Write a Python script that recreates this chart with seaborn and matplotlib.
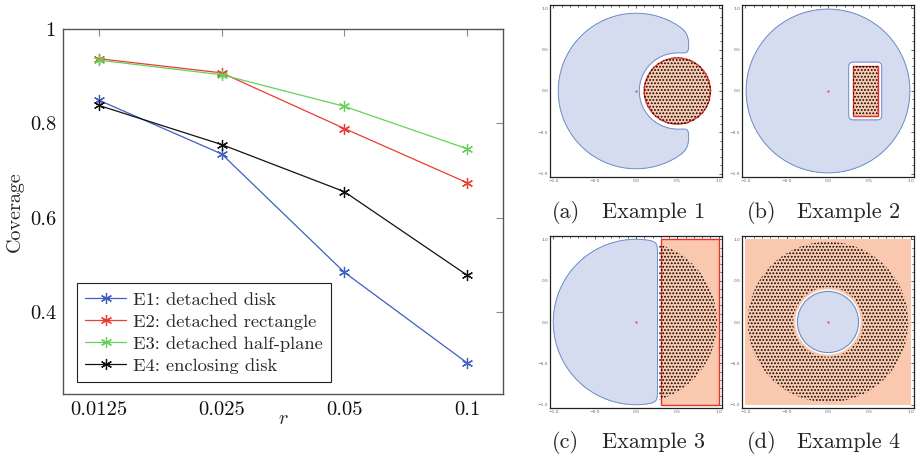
import numpy as np
import pandas as pd
import matplotlib.pyplot as plt
import matplotlib.patches as mpatches
from matplotlib.path import Path
from matplotlib.ticker import FixedLocator, NullLocator, MultipleLocator
import seaborn as sns

# ===== DATA =====
radii = [0.0125, 0.025, 0.05, 0.1]
radius_labels = ['0.0125', '0.025', '0.05', '0.1']
cov_e1 = [0.849, 0.735, 0.484, 0.292]
cov_e2 = [0.937, 0.907, 0.789, 0.674]
cov_e3 = [0.934, 0.903, 0.836, 0.746]
cov_e4 = [0.838, 0.755, 0.655, 0.478]
series_names = ['E1: detached disk', 'E2: detached rectangle',
                'E3: detached half-plane', 'E4: enclosing disk']
y_ticks = [0.4, 0.6, 0.8, 1.0]
y_tick_labels = ['0.4', '0.6', '0.8', '1']

# ===== EXAMPLE GEOMETRY (small panels, data units) =====
ex1_outer_r = 0.94
ex1_target_c = [0.5, 0.0]
ex1_target_r = 0.4
ex1_cut_r = 0.46
ex1_cut_x = 0.64

ex2_outer_r = 0.99
ex2_rect = [0.3, 0.6, -0.3, 0.3]      # x0, x1, y0, y1
ex2_gap = 0.05

ex3_outer_r = 1.0
ex3_cut_x = 0.26
ex3_rect = [0.3, 1.0, -1.0, 1.0]
ex3_dots_x = 0.28
ex3_dots_r = 0.98

ex4_box = [-1.0, 1.0, -1.0, 1.0]
ex4_inner_r = 0.37
ex4_dots_r = [0.42, 0.97]

pole = [0.0, 0.0]
panel_ticks = [-1.0, -0.5, 0.0, 0.5, 1.0]
panel_tick_labels = ['\u22121.0', '\u22120.5', '0.0', '0.5', '1.0']
caption_tags = ['(a)', '(b)', '(c)', '(d)']
caption_texts = ['Example 1', 'Example 2', 'Example 3', 'Example 4']

# ===== COLORS =====
series_colors = ['#3f5fc0', '#ee3b30', '#66d15a', '#111111']
blue_fill, blue_edge = '#d5dcf0', '#6f8fc8'
peach, red_edge = '#f9c8ae', '#e63228'

# ===== STYLE =====
sns.set_style('white')
plt.rcParams['font.family'] = ['cmr10', 'DejaVu Serif']
plt.rcParams['mathtext.fontset'] = 'cm'
plt.rcParams['axes.formatter.use_mathtext'] = True
plt.rcParams['hatch.linewidth'] = 0.22
plt.rcParams['hatch.color'] = 'black'

W, H = 921, 463
fig = plt.figure(figsize=(W / 100, H / 100), dpi=100)


def px_axes(x0, y0, w, h):
    return fig.add_axes([x0 / W, 1 - (y0 + h) / H, w / W, h / H])


# ===== LEFT CHART =====
ax = px_axes(63, 29, 440, 365)
all_cov = [cov_e1, cov_e2, cov_e3, cov_e4]
df = pd.DataFrame({
    'r': radii * 4,
    'coverage': sum(all_cov, []),
    'series': np.repeat(series_names, len(radii)),
})
for name, col in zip(series_names, series_colors):
    sub = df[df['series'] == name]
    sns.lineplot(data=sub, x='r', y='coverage', ax=ax, color=col, lw=0.9,
                 marker=(6, 2, 0), markersize=8, markeredgewidth=0.9,
                 markeredgecolor=col, label=name)

ax.set_xscale('log', base=2)
pad = 2 ** (36 / 123)
ax.set_xlim(radii[0] / pad, radii[-1] * pad)
ax.set_ylim(0.226, 1.0)
ax.xaxis.set_major_locator(FixedLocator(radii))
ax.xaxis.set_minor_locator(NullLocator())
ax.set_xticklabels(radius_labels)
ax.set_yticks(y_ticks)
ax.set_yticklabels(y_tick_labels)
ax.tick_params(direction='in', length=5, width=0.8, color='#8a8a8a',
               top=True, right=True, labelsize=14.8, pad=5, labelcolor='#111')
ax.set_xlabel('$r$', fontsize=14.5, labelpad=-6)
ax.set_ylabel('Coverage', fontsize=14.5, labelpad=4)
for sp in ax.spines.values():
    sp.set_color('#555555')
    sp.set_linewidth(1.0)
ax.legend(loc='lower left', bbox_to_anchor=(0.032, 0.033), fontsize=13.3,
          frameon=True, fancybox=False, framealpha=1, edgecolor='#222',
          handlelength=2.2, borderpad=0.45, labelspacing=0.33,
          handletextpad=0.4, borderaxespad=0).get_frame().set_linewidth(0.8)


# ===== SMALL PANELS =====
grid = np.linspace(-1.05, 1.05, 700)
X, Y = np.meshgrid(grid, grid)
R = np.hypot(X, Y)


def smin(a, b, k=0.03):
    m = np.minimum(a, b)
    return m - k * np.log(np.exp(-(a - m) / k) + np.exp(-(b - m) / k))


def style_panel(a):
    a.set_xlim(-1.04, 1.04)
    a.set_ylim(-1.04, 1.04)
    a.set_aspect('equal')
    a.set_xticks(panel_ticks)
    a.set_yticks(panel_ticks)
    a.set_xticklabels(panel_tick_labels, family='DejaVu Sans')
    a.set_yticklabels(panel_tick_labels, family='DejaVu Sans')
    a.xaxis.set_minor_locator(MultipleLocator(0.1))
    a.yaxis.set_minor_locator(MultipleLocator(0.1))
    a.tick_params(which='both', direction='in', top=True, right=True,
                  width=0.5, color='#222', labelsize=3.2, pad=1.2,
                  labelcolor='#666')
    a.tick_params(which='major', length=2.5)
    a.tick_params(which='minor', length=1.3)
    for sp in a.spines.values():
        sp.set_color('#222')
        sp.set_linewidth(0.9)


def blue_region(a, F):
    a.contourf(X, Y, F, levels=[0, 100], colors=[blue_fill], zorder=2)
    a.contour(X, Y, F, levels=[0], colors=[blue_edge], linewidths=0.7, zorder=3)


def dots(a, path):
    a.add_patch(mpatches.PathPatch(path, facecolor='none', edgecolor='black',
                                   lw=0, hatch='ooooo', zorder=4))


def arc(r, t0, t1, n=200):
    t = np.linspace(t0, t1, n)
    return np.column_stack([r * np.cos(t), r * np.sin(t)])


def pole_mark(a):
    a.plot(pole[0], pole[1], marker='s', ms=1.4, color='#e64a40',
           mew=0, zorder=6)


# --- Example 1: detached disk
a1 = px_axes(550, 5, 172, 172)
F1 = smin(smin(ex1_outer_r - R,
               np.hypot(X - ex1_target_c[0], Y - ex1_target_c[1]) - ex1_cut_r),
          ex1_cut_x - X, k=0.035)
blue_region(a1, F1)
a1.add_patch(mpatches.Circle(ex1_target_c, ex1_target_r, facecolor=peach,
                             edgecolor=red_edge, lw=1.0, zorder=3))
dots(a1, Path.circle(ex1_target_c, ex1_target_r + 0.01))
pole_mark(a1)
style_panel(a1)

# --- Example 2: detached rectangle
a2 = px_axes(742, 5, 172, 172)
x0, x1, y0, y1 = ex2_rect
dx = np.maximum(np.maximum(x0 - X, X - x1), 0)
dy = np.maximum(np.maximum(y0 - Y, Y - y1), 0)
F2 = np.minimum(ex2_outer_r - R, np.hypot(dx, dy) - ex2_gap)
blue_region(a2, F2)
rect2 = mpatches.Rectangle((x0, y0), x1 - x0, y1 - y0)
a2.add_patch(mpatches.Rectangle((x0, y0), x1 - x0, y1 - y0, facecolor=peach,
                                edgecolor=red_edge, lw=1.0, zorder=3))
dots(a2, rect2.get_path().transformed(rect2.get_patch_transform()))
pole_mark(a2)
style_panel(a2)

# --- Example 3: detached half-plane
a3 = px_axes(550, 236, 172, 172)
F3 = smin(ex3_outer_r - R, ex3_cut_x - X, k=0.03)
blue_region(a3, F3)
rx0, rx1, ry0, ry1 = ex3_rect
a3.add_patch(mpatches.Rectangle((rx0, ry0), rx1 - rx0, ry1 - ry0, facecolor=peach,
                                edgecolor=red_edge, lw=1.0, zorder=3))
t = np.arccos(ex3_dots_x / ex3_dots_r)
verts = arc(ex3_dots_r, -t, t)
dots(a3, Path(np.vstack([verts, verts[:1]]), closed=True))
pole_mark(a3)
style_panel(a3)

# --- Example 4: enclosing disk
a4 = px_axes(742, 236, 172, 172)
bx0, bx1, by0, by1 = ex4_box
a4.add_patch(mpatches.Rectangle((bx0, by0), bx1 - bx0, by1 - by0, facecolor=peach,
                                lw=0, zorder=1))
outer = arc(ex4_dots_r[1], 0, 2 * np.pi)
inner = arc(ex4_dots_r[0], 2 * np.pi, 0)
ring = Path.make_compound_path(Path(outer, closed=True), Path(inner, closed=True))
dots(a4, ring)
a4.add_patch(mpatches.Circle((0, 0), ex4_inner_r + 0.025, facecolor='white',
                             lw=0, zorder=5))
a4.add_patch(mpatches.Circle((0, 0), ex4_inner_r, facecolor=blue_fill,
                             edgecolor=blue_edge, lw=0.8, zorder=5))
pole_mark(a4)
style_panel(a4)

# ===== CAPTIONS =====
cap_pos = [(552, 212), (747, 212), (552, 442), (747, 442)]
for tag, txt, (cx, cy) in zip(caption_tags, caption_texts, cap_pos):
    fig.text(cx / W, 1 - cy / H, tag, ha='left', va='center', fontsize=16)
    fig.text((cx + 50) / W, 1 - cy / H, txt, ha='left', va='center', fontsize=16)

fig.savefig('out.png', dpi=100)
